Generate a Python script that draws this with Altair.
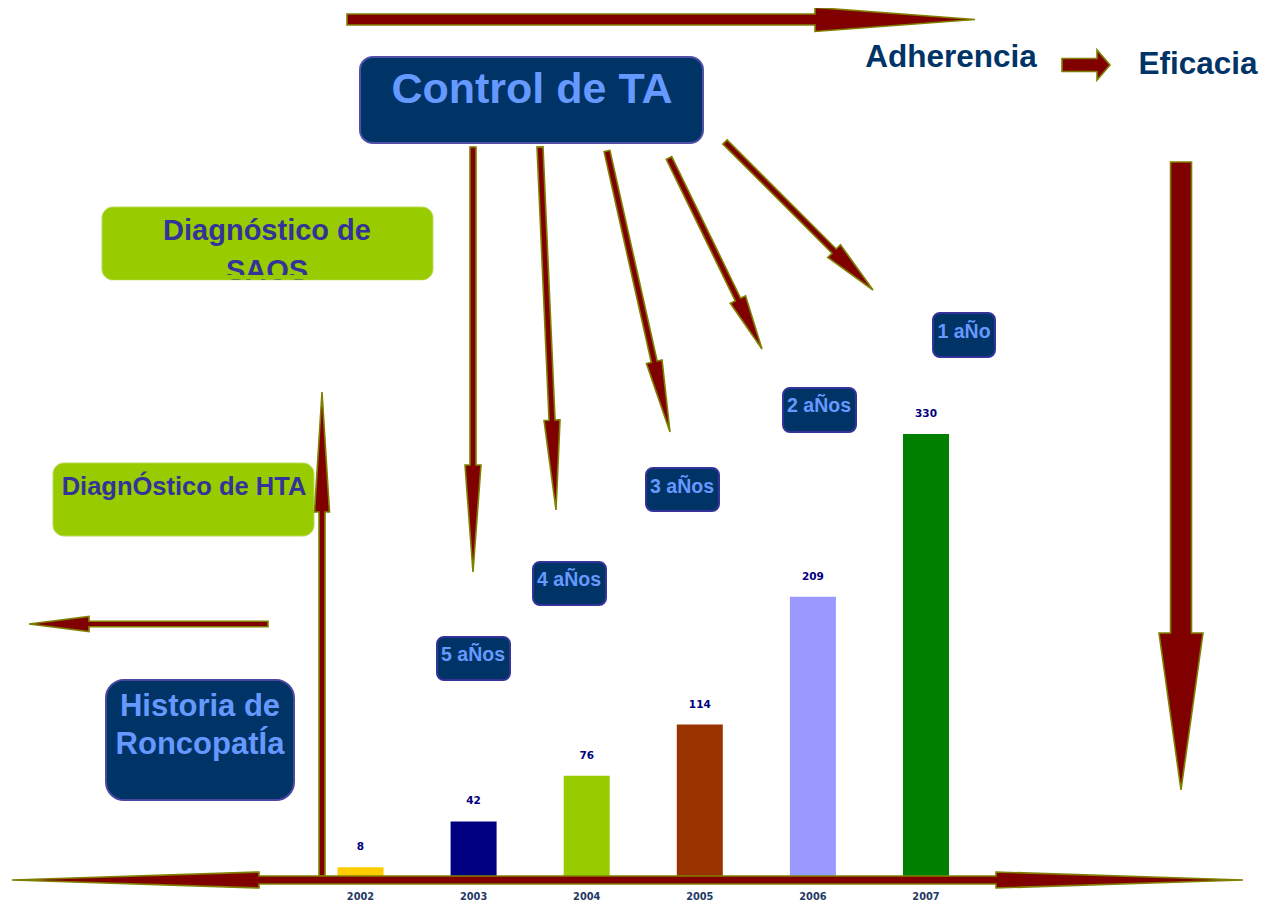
import math
import altair as alt
import pandas as pd

# ---------------- data ----------------
years = [2002, 2003, 2004, 2005, 2006, 2007]
counts = [8, 42, 76, 114, 209, 330]
bar_colors = ["#FFCC00", "#000080", "#99CC00", "#993300", "#9999FF", "#008000"]

box_texts = ["Control de TA", "Diagnóstico de", "SAOS", "DiagnÓstico de HTA",
             "Historia de", "RoncopatÍa", "5 aÑos", "4 aÑos", "3 aÑos", "2 aÑos", "1 aÑo"]
free_texts = ["Adherencia", "Eficacia"]

OFF = 8  # page margin (screenshot px -> chart px)
W, H = 1254, 893

# ---------------- layout (screenshot pixels) ----------------
NAVY = "#003366"
LIGHT = "#6699FF"
GREEN = "#99CC00"
PURPLE = "#333399"

boxes = [
    # x0, y0, x1, y1, fill, stroke, radius, strokeWidth
    (360, 57, 703, 143, NAVY, "#5050A8", 13, 2),
    (102, 207, 433, 280, GREEN, "#B8DA5A", 11, 1),
    (53, 463, 314, 536, GREEN, "#B8DA5A", 11, 1),
    (106, 680, 294, 800, NAVY, "#4848A0", 18, 2),
    (437, 637, 510, 680, NAVY, PURPLE, 7, 2),
    (533, 562, 606, 605, NAVY, PURPLE, 7, 2),
    (646, 468, 719, 511, NAVY, PURPLE, 7, 2),
    (783, 388, 856, 432, NAVY, PURPLE, 7, 2),
    (933, 313, 995, 357, NAVY, PURPLE, 7, 2),
]

# text, center x, baseline y, size, color
text_layout = [
    (box_texts[0], 532, 103, 43, LIGHT),
    (box_texts[1], 267, 240, 29, PURPLE),
    (box_texts[2], 267, 280, 29, PURPLE),
    (box_texts[3], 184, 495, 25.5, PURPLE),
    (box_texts[4], 200, 716, 31, LIGHT),
    (box_texts[5], 200, 754, 31, LIGHT),
    (box_texts[6], 473, 661, 19.5, LIGHT),
    (box_texts[7], 569, 586, 19.5, LIGHT),
    (box_texts[8], 682, 493, 19.5, LIGHT),
    (box_texts[9], 819, 412, 19.5, LIGHT),
    (box_texts[10], 964, 338, 19.5, LIGHT),
    (free_texts[0], 951, 67, 31.5, NAVY),
    (free_texts[1], 1198, 74, 31.5, NAVY),
]

# tail x, tail y, tip x, tip y, shaft width, head width, head length, double
arrows = [
    (347, 19.5, 975, 19.5, 11, 24, 160, False),
    (1062, 65, 1110, 65, 13, 30, 13, False),
    (1181, 162, 1181, 790, 21, 44, 157, False),
    (473, 147, 473, 572, 6, 16, 107, False),
    (540, 147, 556, 510, 6, 16, 90, False),
    (607, 151, 670, 432, 6, 16, 72, False),
    (669, 158, 762, 349, 6, 17, 55, False),
    (725, 142, 873, 290, 6, 18, 55, False),
    (322, 876, 322, 392, 6, 15, 120, False),
    (268, 624, 29, 624, 5.5, 15, 60, False),
    (12, 880, 1243, 880, 8, 16, 247, True),
]


def arrow_path(x0, y0, x1, y1, sw, hw, hl, double):
    x0, y0, x1, y1 = x0 - OFF, y0 - OFF, x1 - OFF, y1 - OFF
    L = math.hypot(x1 - x0, y1 - y0)
    ux, uy = (x1 - x0) / L, (y1 - y0) / L
    nx, ny = -uy, ux
    b1 = (x1 - ux * hl, y1 - uy * hl)

    def off(p, d):
        return (p[0] + nx * d, p[1] + ny * d)

    if double:
        b0 = (x0 + ux * hl, y0 + uy * hl)
        pts = [(x0, y0), off(b0, hw / 2), off(b0, sw / 2), off(b1, sw / 2), off(b1, hw / 2),
               (x1, y1), off(b1, -hw / 2), off(b1, -sw / 2), off(b0, -sw / 2), off(b0, -hw / 2)]
    else:
        t = (x0, y0)
        pts = [off(t, sw / 2), off(b1, sw / 2), off(b1, hw / 2), (x1, y1),
               off(b1, -hw / 2), off(b1, -sw / 2), off(t, -sw / 2)]
    return "M" + " L".join(f"{p[0]:.2f},{p[1]:.2f}" for p in pts) + " Z"


one = pd.DataFrame({"k": [0]})

# ---------------- bar chart (library scales) ----------------
df = pd.DataFrame({"year": years, "count": counts, "color": bar_colors})
x_scale = alt.Scale(domain=[2002, 2007], range=[360.5 - OFF, 926 - OFF], nice=False, zero=False, padding=0)
y_scale = alt.Scale(domain=[0, 330], range=[878 - OFF, 434 - OFF], nice=False, padding=0)

base = alt.Chart(df)
bars = base.mark_bar(size=46).encode(
    x=alt.X("year:Q", scale=x_scale, axis=None),
    y=alt.Y("count:Q", scale=y_scale, axis=None),
    color=alt.Color("color:N", scale=None, legend=None),
)
val_labels = base.mark_text(dy=-20, font="DejaVu Sans", fontWeight="bold", fontSize=10.5,
                            color="#000080", baseline="middle").encode(
    x=alt.X("year:Q", scale=x_scale, axis=None),
    y=alt.Y("count:Q", scale=y_scale, axis=None),
    text="count:Q",
)
year_labels = base.mark_text(font="DejaVu Sans", fontWeight="bold", fontSize=9.8,
                             color="#1F3864", baseline="alphabetic").encode(
    x=alt.X("year:Q", scale=x_scale, axis=None),
    y=alt.value(900 - OFF),
    text="year:N",
)
data_layer = alt.layer(bars, val_labels, year_labels)

# ---------------- boxes ----------------
box_layers = []
for (x0, y0, x1, y1, fill, stroke, r, swd) in boxes:
    bdf = pd.DataFrame({"x0": [x0 - OFF], "x1": [x1 - OFF], "y0": [y0 - OFF], "y1": [y1 - OFF]})
    box_layers.append(
        alt.Chart(bdf).mark_rect(cornerRadius=r, fill=fill, stroke=stroke, strokeWidth=swd).encode(
            x=alt.X("x0:Q", scale=None, axis=None), x2="x1:Q",
            y=alt.Y("y0:Q", scale=None, axis=None), y2="y1:Q",
        )
    )

# ---------------- texts ----------------
tdf = pd.DataFrame({
    "text": [t[0] for t in text_layout],
    "x": [t[1] - OFF for t in text_layout],
    "y": [t[2] - OFF for t in text_layout],
    "size": [t[3] for t in text_layout],
    "color": [t[4] for t in text_layout],
})
texts = alt.Chart(tdf).mark_text(font="Liberation Sans", fontWeight="bold", baseline="alphabetic",
                                 align="center").encode(
    x=alt.X("x:Q", scale=None, axis=None),
    y=alt.Y("y:Q", scale=None, axis=None),
    text="text:N",
    size=alt.Size("size:Q", scale=None, legend=None),
    color=alt.Color("color:N", scale=None, legend=None),
)

# clip of the SAOS line inside its text frame (green strip + white below box)
clip_df = pd.DataFrame({"x0": [112 - OFF], "x1": [424 - OFF], "y0": [275 - OFF], "y1": [279.4 - OFF]})
clip_green = alt.Chart(clip_df).mark_rect(fill=GREEN).encode(
    x=alt.X("x0:Q", scale=None, axis=None), x2="x1:Q",
    y=alt.Y("y0:Q", scale=None, axis=None), y2="y1:Q",
)
clip_df2 = pd.DataFrame({"x0": [112 - OFF], "x1": [424 - OFF], "y0": [280.6 - OFF], "y1": [287 - OFF]})
clip_white = alt.Chart(clip_df2).mark_rect(fill="white").encode(
    x=alt.X("x0:Q", scale=None, axis=None), x2="x1:Q",
    y=alt.Y("y0:Q", scale=None, axis=None), y2="y1:Q",
)

# ---------------- arrows ----------------
arrow_layers = []
for a in arrows:
    p = arrow_path(*a)
    arrow_layers.append(
        alt.Chart(one).mark_point(shape=p, size=4, filled=True, fill="#800000", stroke="#808000",
                                  strokeWidth=1.6, opacity=1, fillOpacity=1, strokeOpacity=1).encode(
            x=alt.value(0), y=alt.value(0)
        )
    )

chart = alt.layer(
    data_layer, *box_layers, texts, clip_green, clip_white, *arrow_layers
).resolve_scale(x="independent", y="independent").properties(
    width=W, height=H, padding=0, autosize=alt.AutoSizeParams(type="none")
).configure_view(stroke=None)

chart.save("out.html", embed_options={"renderer": "svg", "actions": False})
